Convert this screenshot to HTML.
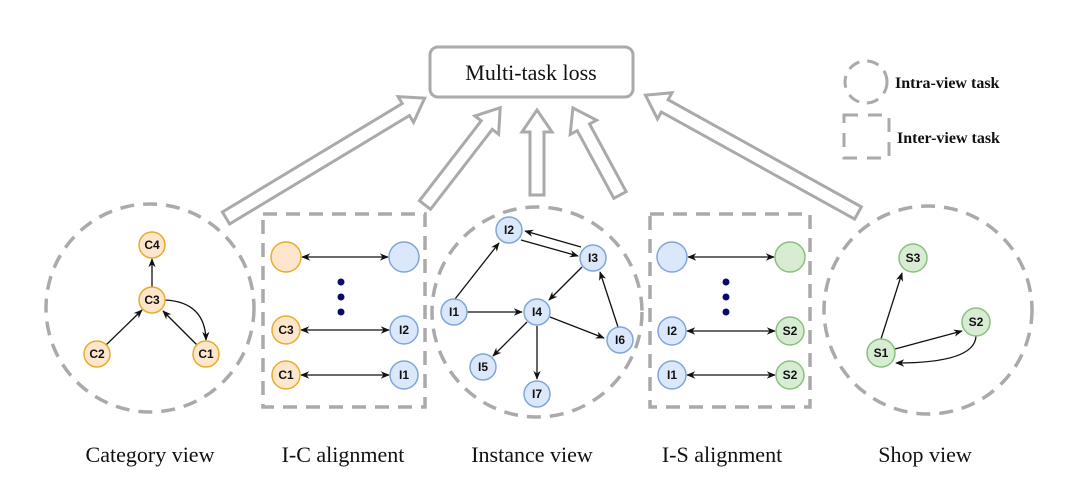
<!DOCTYPE html>
<html><head><meta charset="utf-8"><style>
html,body{margin:0;padding:0;background:#fff;}
svg{display:block;}
.n{font-family:"Liberation Sans",sans-serif;font-weight:bold;font-size:12px;text-anchor:middle;dominant-baseline:central;fill:#111;}
.lab{font-family:"Liberation Serif",serif;font-size:22px;text-anchor:middle;fill:#111;}
.leg{font-family:"Liberation Serif",serif;font-size:16px;font-weight:bold;fill:#111;}
.o{fill:#fde6cc;stroke:#e6ad2c;stroke-width:1.5;}
.b{fill:#dbe7fa;stroke:#7fa6da;stroke-width:1.5;}
.g{fill:#d7ecd3;stroke:#87c27a;stroke-width:1.5;}
.e{stroke:#111;stroke-width:1.3;fill:none;}
.d{fill:none;stroke:#aaa;stroke-width:3.5;stroke-dasharray:14 9;}
.ha{fill:#fff;stroke:#aaa;stroke-width:3;}
</style></head><body>
<svg width="1080" height="500" viewBox="0 0 1080 500">
<defs>
<marker id="a" viewBox="0 0 10 10" refX="9" refY="5" markerWidth="7" markerHeight="7" orient="auto-start-reverse"><path d="M0,1 L10,5 L0,9 L3,5 z" fill="#111"/></marker>
</defs>

<g transform="translate(226,218) rotate(-31.1)"><polygon class="ha" points="0,-7 210,-7 210,-15 232,0 210,15 210,7 0,7"/></g>
<g transform="translate(425,205) rotate(-52.3)"><polygon class="ha" points="0,-7 101,-7 101,-15 123,0 101,15 101,7 0,7"/></g>
<g transform="translate(537,195) rotate(-90)"><polygon class="ha" points="0,-7 63,-7 63,-15 85,0 63,15 63,7 0,7"/></g>
<g transform="translate(620,195) rotate(-118.4)"><polygon class="ha" points="0,-7 77,-7 77,-15 99,0 77,15 77,7 0,7"/></g>
<g transform="translate(858,213) rotate(-151)"><polygon class="ha" points="0,-7 221,-7 221,-15 243,0 221,15 221,7 0,7"/></g>

<rect x="430" y="47" width="203" height="50" rx="8" fill="#fff" stroke="#aaa" stroke-width="3"/>
<text x="531" y="80" font-family="Liberation Serif,serif" font-size="22" text-anchor="middle" fill="#111">Multi-task loss</text>

<circle cx="866" cy="82" r="21" class="d" style="stroke-dasharray:12 8;stroke-width:3"/>
<text x="895" y="88" class="leg">Intra-view task</text>
<rect x="844" y="115" width="45" height="43" class="d" style="stroke-dasharray:14 10;stroke-width:3"/>
<text x="897" y="143" class="leg">Inter-view task</text>

<circle cx="150" cy="308" r="104" class="d"/>
<rect x="263" y="214" width="162" height="193" class="d"/>
<circle cx="537" cy="312" r="105" class="d"/>
<rect x="650" y="214" width="160" height="193" class="d"/>
<circle cx="928" cy="310" r="104" class="d"/>

<line x1="152" y1="287" x2="152" y2="259" class="e" marker-end="url(#a)"/>
<line x1="106" y1="345" x2="142" y2="310" class="e" marker-end="url(#a)"/>
<line x1="197" y1="345" x2="163" y2="311" class="e" marker-end="url(#a)"/>
<path d="M165,300 Q205,302 206,340" class="e" marker-end="url(#a)"/>
<circle cx="152" cy="245" r="13" class="o"/><text x="152" y="245" class="n">C4</text>
<circle cx="152" cy="300" r="13" class="o"/><text x="152" y="300" class="n">C3</text>
<circle cx="97" cy="354" r="13" class="o"/><text x="97" y="354" class="n">C2</text>
<circle cx="206" cy="354" r="13" class="o"/><text x="206" y="354" class="n">C1</text>

<line x1="302" y1="257" x2="388" y2="257" class="e" marker-start="url(#a)" marker-end="url(#a)"/>
<line x1="301" y1="330" x2="389" y2="330" class="e" marker-start="url(#a)" marker-end="url(#a)"/>
<line x1="301" y1="375" x2="389" y2="375" class="e" marker-start="url(#a)" marker-end="url(#a)"/>
<circle cx="286" cy="257" r="15" class="o"/><circle cx="404" cy="257" r="15" class="b"/>
<circle cx="341" cy="282" r="3.5" fill="#0a0a6e"/><circle cx="341" cy="297" r="3.5" fill="#0a0a6e"/><circle cx="341" cy="312" r="3.5" fill="#0a0a6e"/>
<circle cx="286" cy="330" r="14" class="o"/><text x="286" y="330" class="n">C3</text>
<circle cx="404" cy="330" r="14" class="b"/><text x="404" y="330" class="n">I2</text>
<circle cx="286" cy="375" r="14" class="o"/><text x="286" y="375" class="n">C1</text>
<circle cx="404" cy="375" r="14" class="b"/><text x="404" y="375" class="n">I1</text>

<line x1="455" y1="299" x2="499" y2="243" class="e" marker-end="url(#a)"/>
<line x1="521" y1="240" x2="578" y2="256" class="e" marker-end="url(#a)"/>
<line x1="581" y1="247" x2="525" y2="231" class="e" marker-end="url(#a)"/>
<line x1="467" y1="312" x2="522" y2="312" class="e" marker-end="url(#a)"/>
<line x1="582" y1="267" x2="549" y2="300" class="e" marker-end="url(#a)"/>
<line x1="618" y1="327" x2="600" y2="272" class="e" marker-end="url(#a)"/>
<line x1="550" y1="317" x2="604" y2="338" class="e" marker-end="url(#a)"/>
<line x1="527" y1="322" x2="493" y2="356" class="e" marker-end="url(#a)"/>
<line x1="537" y1="326" x2="537" y2="379" class="e" marker-end="url(#a)"/>
<circle cx="509" cy="230" r="13" class="b"/><text x="509" y="230" class="n">I2</text>
<circle cx="593" cy="258" r="13" class="b"/><text x="593" y="258" class="n">I3</text>
<circle cx="454" cy="312" r="13" class="b"/><text x="454" y="312" class="n">I1</text>
<circle cx="537" cy="312" r="13" class="b"/><text x="537" y="312" class="n">I4</text>
<circle cx="620" cy="340" r="13" class="b"/><text x="620" y="340" class="n">I6</text>
<circle cx="483" cy="367" r="13" class="b"/><text x="483" y="367" class="n">I5</text>
<circle cx="537" cy="394" r="13" class="b"/><text x="537" y="394" class="n">I7</text>

<line x1="688" y1="257" x2="774" y2="257" class="e" marker-start="url(#a)" marker-end="url(#a)"/>
<line x1="687" y1="331" x2="775" y2="331" class="e" marker-start="url(#a)" marker-end="url(#a)"/>
<line x1="687" y1="375" x2="775" y2="375" class="e" marker-start="url(#a)" marker-end="url(#a)"/>
<circle cx="672" cy="257" r="15" class="b"/><circle cx="790" cy="257" r="15" class="g"/>
<circle cx="726" cy="282" r="3.5" fill="#0a0a6e"/><circle cx="726" cy="297" r="3.5" fill="#0a0a6e"/><circle cx="726" cy="312" r="3.5" fill="#0a0a6e"/>
<circle cx="672" cy="331" r="14" class="b"/><text x="672" y="331" class="n">I2</text>
<circle cx="790" cy="331" r="14" class="g"/><text x="790" y="331" class="n">S2</text>
<circle cx="672" cy="375" r="14" class="b"/><text x="672" y="375" class="n">I1</text>
<circle cx="790" cy="375" r="14" class="g"/><text x="790" y="375" class="n">S2</text>

<line x1="881" y1="339" x2="902" y2="273" class="e" marker-end="url(#a)"/>
<line x1="895" y1="349" x2="962" y2="331" class="e" marker-end="url(#a)"/>
<path d="M976,336 Q975,363 896,363" class="e" marker-end="url(#a)"/>
<circle cx="913" cy="258" r="14" class="g"/><text x="913" y="258" class="n">S3</text>
<circle cx="976" cy="322" r="14" class="g"/><text x="976" y="322" class="n">S2</text>
<circle cx="881" cy="353" r="14" class="g"/><text x="881" y="353" class="n">S1</text>

<text x="150" y="462" class="lab">Category view</text>
<text x="343" y="462" class="lab">I-C alignment</text>
<text x="532" y="462" class="lab">Instance view</text>
<text x="722" y="462" class="lab">I-S alignment</text>
<text x="925" y="462" class="lab">Shop view</text>
</svg>
</body></html>
